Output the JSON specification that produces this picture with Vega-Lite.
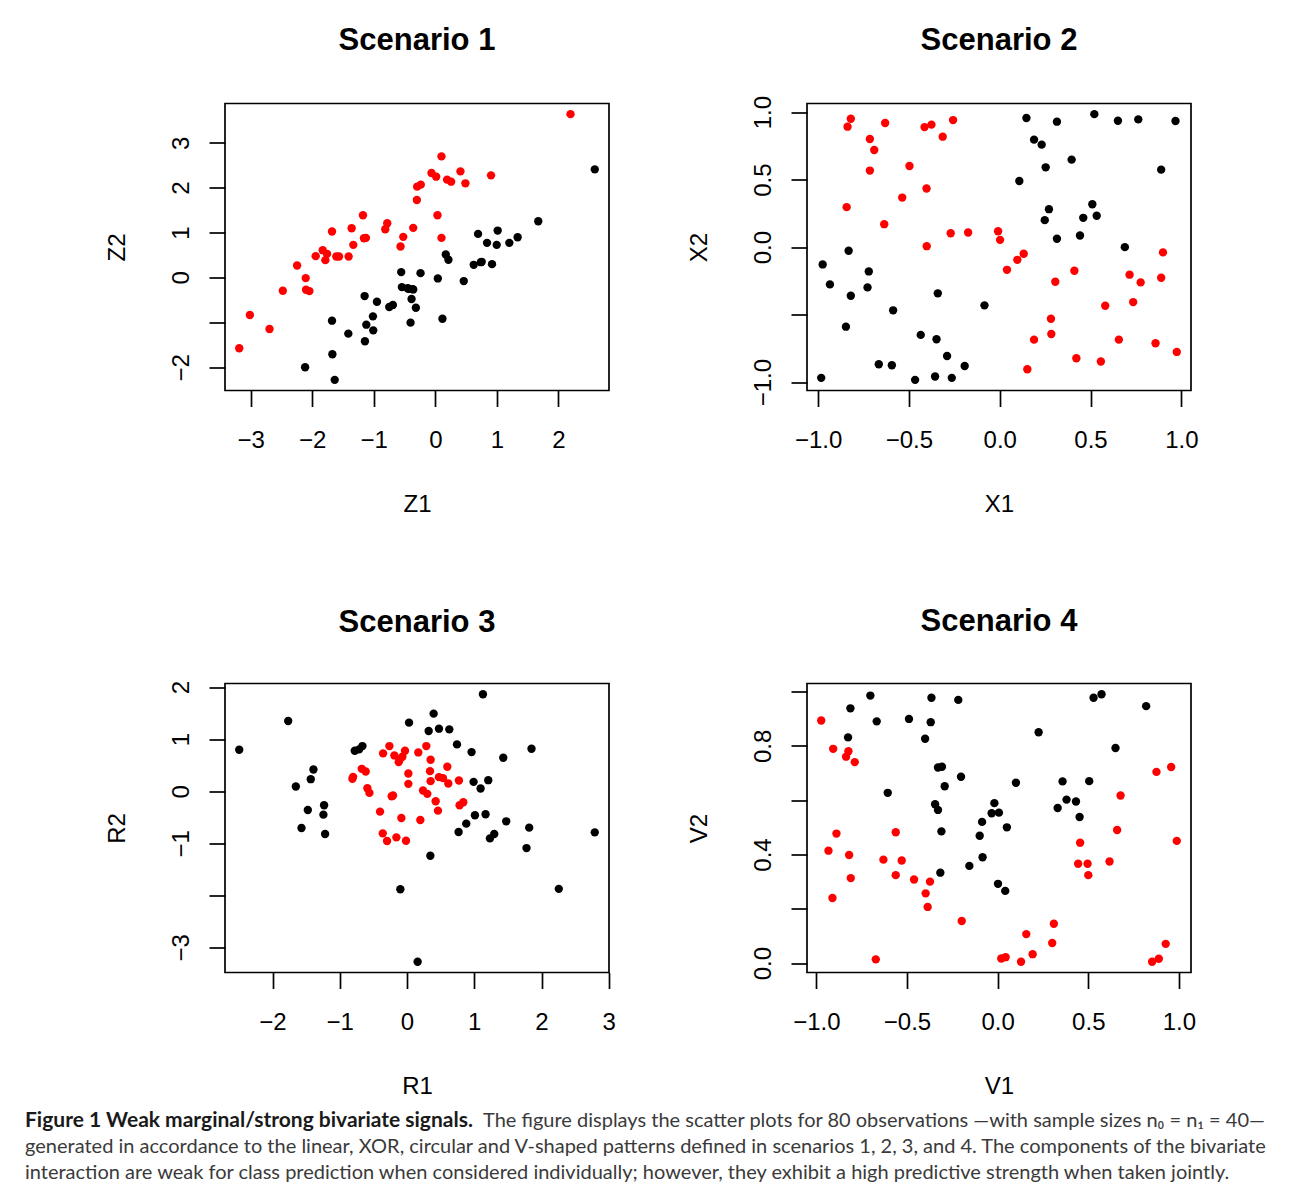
{
  "$schema": "https://vega.github.io/schema/vega-lite/v6.json",
  "background": "white",
  "padding": {"left": 25, "top": 23.5, "right": 0, "bottom": 0},
  "config": {
    "view": {"stroke": "black", "strokeWidth": 1.7},
    "axis": {"domain": false, "grid": false, "tickSize": 16, "tickColor": "black", "tickWidth": 1.7,
      "labelFont": "Liberation Sans", "labelFontSize": 24, "labelColor": "black", "labelOverlap": false, "labelFlush": false, "labelBound": false,
      "titleFont": "Liberation Sans", "titleFontSize": 24, "titleFontWeight": "normal", "titleColor": "black"},
    "axisX": {"labelBaseline": "alphabetic", "labelAlign": "center", "labelPadding": 41, "labelAngle": 0, "titleBaseline": "alphabetic", "titleY": 121},
    "axisY": {"labelAngle": -90, "labelAlign": "center", "labelBaseline": "alphabetic", "labelPadding": 21, "titleAngle": -90, "titleBaseline": "alphabetic", "titleX": -101},
    "title": {"font": "Liberation Sans", "fontSize": 31, "fontWeight": "bold", "color": "black", "frame": "group", "anchor": "middle", "baseline": "alphabetic"},
    "circle": {"size": 70, "opacity": 1}
  },
  "datasets": {
    "s1": [
      {"x":2.590,"y":2.407,"g":"0"},{"x":1.672,"y":1.252,"g":"0"},{"x":1.013,"y":1.044,"g":"0"},{"x":1.337,"y":0.896,"g":"0"},{"x":1.202,"y":0.770,"g":"0"},
      {"x":0.997,"y":0.726,"g":"0"},{"x":0.840,"y":0.770,"g":"0"},{"x":0.694,"y":0.970,"g":"0"},{"x":0.921,"y":0.296,"g":"0"},{"x":0.753,"y":0.348,"g":"0"},
      {"x":0.624,"y":0.281,"g":"0"},{"x":0.170,"y":0.511,"g":"0"},{"x":0.213,"y":0.393,"g":"0"},{"x":0.462,"y":-0.081,"g":"0"},{"x":0.041,"y":-0.022,"g":"0"},
      {"x":-0.240,"y":0.096,"g":"0"},{"x":-0.554,"y":0.119,"g":"0"},{"x":-0.543,"y":-0.215,"g":"0"},{"x":-0.435,"y":-0.252,"g":"0"},{"x":-0.359,"y":-0.267,"g":"0"},
      {"x":-0.386,"y":-0.481,"g":"0"},{"x":-0.316,"y":-0.674,"g":"0"},{"x":-0.402,"y":-1.007,"g":"0"},{"x":0.116,"y":-0.919,"g":"0"},{"x":-0.689,"y":-0.615,"g":"0"},
      {"x":-0.748,"y":-0.659,"g":"0"},{"x":-0.948,"y":-0.541,"g":"0"},{"x":-1.148,"y":-0.415,"g":"0"},{"x":-1.013,"y":-0.867,"g":"0"},{"x":-1.121,"y":-1.052,"g":"0"},
      {"x":-1.008,"y":-1.178,"g":"0"},{"x":-1.143,"y":-1.422,"g":"0"},{"x":-1.413,"y":-1.252,"g":"0"},{"x":-1.678,"y":-0.963,"g":"0"},{"x":-1.672,"y":-1.711,"g":"0"},
      {"x":-2.115,"y":-2.000,"g":"0"},{"x":-1.634,"y":-2.281,"g":"0"},{"x":-0.45,"y":-0.24,"g":"0"},{"x":0.74,"y":0.34,"g":"0"},{"x":-0.37,"y":-0.26,"g":"0"},
      {"x":2.196,"y":3.637,"g":"1"},{"x":0.100,"y":2.696,"g":"1"},{"x":-0.062,"y":2.326,"g":"1"},{"x":0.014,"y":2.244,"g":"1"},{"x":0.191,"y":2.178,"g":"1"},
      {"x":0.257,"y":2.133,"g":"1"},{"x":0.408,"y":2.363,"g":"1"},{"x":0.489,"y":2.096,"g":"1"},{"x":0.905,"y":2.274,"g":"1"},{"x":-0.295,"y":2.022,"g":"1"},
      {"x":-0.236,"y":2.067,"g":"1"},{"x":-0.300,"y":1.726,"g":"1"},{"x":0.035,"y":1.385,"g":"1"},{"x":0.100,"y":0.881,"g":"1"},{"x":-0.359,"y":1.104,"g":"1"},
      {"x":-0.521,"y":0.904,"g":"1"},{"x":-0.565,"y":0.689,"g":"1"},{"x":-0.781,"y":1.207,"g":"1"},{"x":-0.813,"y":1.074,"g":"1"},{"x":-1.175,"y":1.385,"g":"1"},
      {"x":-1.127,"y":0.881,"g":"1"},{"x":-1.159,"y":0.874,"g":"1"},{"x":-1.332,"y":0.726,"g":"1"},{"x":-1.359,"y":1.096,"g":"1"},{"x":-1.678,"y":1.022,"g":"1"},
      {"x":-1.408,"y":0.467,"g":"1"},{"x":-1.564,"y":0.467,"g":"1"},{"x":-1.608,"y":0.467,"g":"1"},{"x":-1.759,"y":0.526,"g":"1"},{"x":-1.829,"y":0.607,"g":"1"},
      {"x":-1.786,"y":0.385,"g":"1"},{"x":-1.943,"y":0.474,"g":"1"},{"x":-2.245,"y":0.267,"g":"1"},{"x":-2.105,"y":-0.015,"g":"1"},{"x":-2.099,"y":-0.274,"g":"1"},
      {"x":-2.045,"y":-0.304,"g":"1"},{"x":-2.477,"y":-0.296,"g":"1"},{"x":-3.012,"y":-0.837,"g":"1"},{"x":-2.693,"y":-1.148,"g":"1"},{"x":-3.185,"y":-1.578,"g":"1"}
    ],
    "s2": [
      {"x":0.147,"y":0.956,"g":"0"},{"x":0.315,"y":0.929,"g":"0"},{"x":0.521,"y":0.985,"g":"0"},{"x":0.651,"y":0.936,"g":"0"},{"x":0.763,"y":0.946,"g":"0"},
      {"x":0.968,"y":0.934,"g":"0"},{"x":0.189,"y":0.796,"g":"0"},{"x":0.231,"y":0.759,"g":"0"},{"x":0.253,"y":0.591,"g":"0"},{"x":0.396,"y":0.648,"g":"0"},
      {"x":0.889,"y":0.574,"g":"0"},{"x":0.108,"y":0.490,"g":"0"},{"x":0.271,"y":0.281,"g":"0"},{"x":0.510,"y":0.318,"g":"0"},{"x":0.248,"y":0.200,"g":"0"},
      {"x":0.460,"y":0.217,"g":"0"},{"x":0.534,"y":0.232,"g":"0"},{"x":0.315,"y":0.062,"g":"0"},{"x":0.442,"y":0.086,"g":"0"},{"x":0.689,"y":0.000,"g":"0"},
      {"x":-0.832,"y":-0.027,"g":"0"},{"x":-0.975,"y":-0.128,"g":"0"},{"x":-0.935,"y":-0.276,"g":"0"},{"x":-0.721,"y":-0.180,"g":"0"},{"x":-0.728,"y":-0.298,"g":"0"},
      {"x":-0.820,"y":-0.360,"g":"0"},{"x":-0.341,"y":-0.342,"g":"0"},{"x":-0.587,"y":-0.468,"g":"0"},{"x":-0.084,"y":-0.431,"g":"0"},{"x":-0.847,"y":-0.589,"g":"0"},
      {"x":-0.435,"y":-0.650,"g":"0"},{"x":-0.348,"y":-0.682,"g":"0"},{"x":-0.290,"y":-0.806,"g":"0"},{"x":-0.666,"y":-0.867,"g":"0"},{"x":-0.594,"y":-0.875,"g":"0"},
      {"x":-0.193,"y":-0.880,"g":"0"},{"x":-0.983,"y":-0.968,"g":"0"},{"x":-0.466,"y":-0.983,"g":"0"},{"x":-0.356,"y":-0.958,"g":"0"},{"x":-0.264,"y":-0.968,"g":"0"},
      {"x":-0.820,"y":0.951,"g":"1"},{"x":-0.838,"y":0.892,"g":"1"},{"x":-0.631,"y":0.919,"g":"1"},{"x":-0.414,"y":0.889,"g":"1"},{"x":-0.376,"y":0.907,"g":"1"},
      {"x":-0.257,"y":0.941,"g":"1"},{"x":-0.314,"y":0.818,"g":"1"},{"x":-0.715,"y":0.801,"g":"1"},{"x":-0.691,"y":0.719,"g":"1"},{"x":-0.715,"y":0.567,"g":"1"},
      {"x":-0.497,"y":0.601,"g":"1"},{"x":-0.403,"y":0.434,"g":"1"},{"x":-0.537,"y":0.367,"g":"1"},{"x":-0.843,"y":0.296,"g":"1"},{"x":-0.636,"y":0.170,"g":"1"},
      {"x":-0.402,"y":0.007,"g":"1"},{"x":-0.270,"y":0.103,"g":"1"},{"x":-0.174,"y":0.108,"g":"1"},{"x":-0.009,"y":0.118,"g":"1"},{"x":0.002,"y":0.054,"g":"1"},
      {"x":0.132,"y":-0.049,"g":"1"},{"x":0.097,"y":-0.094,"g":"1"},{"x":0.040,"y":-0.168,"g":"1"},{"x":0.306,"y":-0.256,"g":"1"},{"x":0.411,"y":-0.175,"g":"1"},
      {"x":0.899,"y":-0.039,"g":"1"},{"x":0.889,"y":-0.227,"g":"1"},{"x":0.715,"y":-0.204,"g":"1"},{"x":0.776,"y":-0.261,"g":"1"},{"x":0.581,"y":-0.434,"g":"1"},
      {"x":0.735,"y":-0.407,"g":"1"},{"x":0.282,"y":-0.530,"g":"1"},{"x":0.284,"y":-0.643,"g":"1"},{"x":0.189,"y":-0.685,"g":"1"},{"x":0.656,"y":-0.685,"g":"1"},
      {"x":0.858,"y":-0.712,"g":"1"},{"x":0.975,"y":-0.776,"g":"1"},{"x":0.422,"y":-0.823,"g":"1"},{"x":0.557,"y":-0.847,"g":"1"},{"x":0.152,"y":-0.904,"g":"1"}
    ],
    "s3": [
      {"x":-2.495,"y":0.796,"g":"0"},{"x":-1.767,"y":1.349,"g":"0"},{"x":1.129,"y":1.863,"g":"0"},{"x":0.396,"y":1.490,"g":"0"},{"x":0.030,"y":1.317,"g":"0"},
      {"x":0.322,"y":1.156,"g":"0"},{"x":0.475,"y":1.201,"g":"0"},{"x":0.629,"y":1.188,"g":"0"},{"x":0.743,"y":0.899,"g":"0"},{"x":0.960,"y":0.751,"g":"0"},
      {"x":1.851,"y":0.816,"g":"0"},{"x":1.431,"y":0.642,"g":"0"},{"x":-0.663,"y":0.867,"g":"0"},{"x":-0.777,"y":0.777,"g":"0"},{"x":-0.713,"y":0.803,"g":"0"},
      {"x":-1.391,"y":0.417,"g":"0"},{"x":-1.431,"y":0.231,"g":"0"},{"x":-1.653,"y":0.090,"g":"0"},{"x":-1.233,"y":-0.270,"g":"0"},{"x":-1.243,"y":-0.450,"g":"0"},
      {"x":-1.475,"y":-0.360,"g":"0"},{"x":-1.569,"y":-0.706,"g":"0"},{"x":-1.218,"y":-0.822,"g":"0"},{"x":0.990,"y":0.180,"g":"0"},{"x":1.208,"y":0.212,"g":"0"},
      {"x":1.094,"y":0.051,"g":"0"},{"x":1.010,"y":-0.462,"g":"0"},{"x":1.168,"y":-0.443,"g":"0"},{"x":0.881,"y":-0.623,"g":"0"},{"x":0.767,"y":-0.784,"g":"0"},
      {"x":1.475,"y":-0.578,"g":"0"},{"x":1.297,"y":-0.822,"g":"0"},{"x":1.233,"y":-0.906,"g":"0"},{"x":1.817,"y":-0.700,"g":"0"},{"x":1.777,"y":-1.092,"g":"0"},
      {"x":2.792,"y":-0.790,"g":"0"},{"x":0.347,"y":-1.240,"g":"0"},{"x":-0.099,"y":-1.882,"g":"0"},{"x":2.257,"y":-1.875,"g":"0"},{"x":0.158,"y":-3.276,"g":"0"},
      {"x":-0.356,"y":0.726,"g":"1"},{"x":-0.262,"y":0.867,"g":"1"},{"x":-0.188,"y":0.687,"g":"1"},{"x":-0.109,"y":0.610,"g":"1"},{"x":-0.069,"y":0.662,"g":"1"},
      {"x":-0.030,"y":0.777,"g":"1"},{"x":-0.124,"y":0.559,"g":"1"},{"x":0.168,"y":0.745,"g":"1"},{"x":0.287,"y":0.867,"g":"1"},{"x":0.351,"y":0.604,"g":"1"},
      {"x":0.599,"y":0.469,"g":"1"},{"x":0.020,"y":0.340,"g":"1"},{"x":0.020,"y":0.141,"g":"1"},{"x":0.342,"y":0.385,"g":"1"},{"x":0.351,"y":0.193,"g":"1"},
      {"x":0.475,"y":0.270,"g":"1"},{"x":0.535,"y":0.251,"g":"1"},{"x":0.614,"y":0.148,"g":"1"},{"x":0.772,"y":0.206,"g":"1"},{"x":-0.673,"y":0.430,"g":"1"},
      {"x":-0.614,"y":0.379,"g":"1"},{"x":-0.812,"y":0.238,"g":"1"},{"x":-0.802,"y":0.276,"g":"1"},{"x":-0.589,"y":0.058,"g":"1"},{"x":-0.559,"y":-0.032,"g":"1"},
      {"x":-0.208,"y":-0.083,"g":"1"},{"x":-0.228,"y":-0.096,"g":"1"},{"x":0.238,"y":0.013,"g":"1"},{"x":0.302,"y":-0.051,"g":"1"},{"x":0.426,"y":-0.193,"g":"1"},
      {"x":0.460,"y":-0.373,"g":"1"},{"x":0.782,"y":-0.270,"g":"1"},{"x":0.837,"y":-0.212,"g":"1"},{"x":-0.401,"y":-0.392,"g":"1"},{"x":-0.084,"y":-0.514,"g":"1"},
      {"x":0.198,"y":-0.552,"g":"1"},{"x":-0.361,"y":-0.809,"g":"1"},{"x":-0.297,"y":-0.957,"g":"1"},{"x":-0.158,"y":-0.886,"g":"1"},{"x":-0.015,"y":-0.951,"g":"1"}
    ],
    "s4": [
      {"x":-0.702,"y":0.985,"g":"0"},{"x":-0.812,"y":0.938,"g":"0"},{"x":-0.667,"y":0.890,"g":"0"},{"x":-0.825,"y":0.831,"g":"0"},{"x":-0.365,"y":0.977,"g":"0"},
      {"x":-0.217,"y":0.969,"g":"0"},{"x":-0.489,"y":0.899,"g":"0"},{"x":-0.369,"y":0.887,"g":"0"},{"x":-0.400,"y":0.826,"g":"0"},{"x":0.529,"y":0.977,"g":"0"},
      {"x":0.573,"y":0.990,"g":"0"},{"x":0.819,"y":0.946,"g":"0"},{"x":0.226,"y":0.850,"g":"0"},{"x":0.650,"y":0.792,"g":"0"},{"x":-0.329,"y":0.720,"g":"0"},
      {"x":-0.307,"y":0.723,"g":"0"},{"x":-0.202,"y":0.686,"g":"0"},{"x":-0.292,"y":0.651,"g":"0"},{"x":-0.606,"y":0.627,"g":"0"},{"x":0.101,"y":0.664,"g":"0"},
      {"x":0.358,"y":0.669,"g":"0"},{"x":0.505,"y":0.670,"g":"0"},{"x":0.380,"y":0.602,"g":"0"},{"x":0.432,"y":0.595,"g":"0"},{"x":0.331,"y":0.571,"g":"0"},
      {"x":0.452,"y":0.538,"g":"0"},{"x":-0.345,"y":0.585,"g":"0"},{"x":-0.329,"y":0.564,"g":"0"},{"x":-0.018,"y":0.589,"g":"0"},{"x":-0.033,"y":0.552,"g":"0"},
      {"x":0.007,"y":0.554,"g":"0"},{"x":-0.086,"y":0.520,"g":"0"},{"x":0.051,"y":0.500,"g":"0"},{"x":-0.310,"y":0.485,"g":"0"},{"x":-0.099,"y":0.469,"g":"0"},
      {"x":-0.083,"y":0.390,"g":"0"},{"x":-0.156,"y":0.358,"g":"0"},{"x":-0.316,"y":0.333,"g":"0"},{"x":0.002,"y":0.292,"g":"0"},{"x":0.042,"y":0.266,"g":"0"},
      {"x":-0.973,"y":0.893,"g":"1"},{"x":-0.907,"y":0.789,"g":"1"},{"x":-0.823,"y":0.780,"g":"1"},{"x":-0.836,"y":0.760,"g":"1"},{"x":-0.788,"y":0.740,"g":"1"},
      {"x":-0.889,"y":0.477,"g":"1"},{"x":-0.933,"y":0.414,"g":"1"},{"x":-0.819,"y":0.398,"g":"1"},{"x":-0.810,"y":0.313,"g":"1"},{"x":-0.911,"y":0.240,"g":"1"},
      {"x":-0.562,"y":0.482,"g":"1"},{"x":-0.630,"y":0.381,"g":"1"},{"x":-0.529,"y":0.378,"g":"1"},{"x":-0.562,"y":0.324,"g":"1"},{"x":-0.461,"y":0.308,"g":"1"},
      {"x":-0.373,"y":0.300,"g":"1"},{"x":-0.397,"y":0.257,"g":"1"},{"x":-0.386,"y":0.207,"g":"1"},{"x":-0.198,"y":0.155,"g":"1"},{"x":-0.672,"y":0.014,"g":"1"},
      {"x":0.310,"y":0.145,"g":"1"},{"x":0.158,"y":0.107,"g":"1"},{"x":0.301,"y":0.074,"g":"1"},{"x":0.193,"y":0.033,"g":"1"},{"x":0.020,"y":0.017,"g":"1"},
      {"x":0.044,"y":0.022,"g":"1"},{"x":0.129,"y":0.005,"g":"1"},{"x":0.678,"y":0.617,"g":"1"},{"x":0.659,"y":0.490,"g":"1"},{"x":0.455,"y":0.443,"g":"1"},
      {"x":0.444,"y":0.366,"g":"1"},{"x":0.496,"y":0.366,"g":"1"},{"x":0.500,"y":0.324,"g":"1"},{"x":0.617,"y":0.374,"g":"1"},{"x":0.876,"y":0.704,"g":"1"},
      {"x":0.957,"y":0.722,"g":"1"},{"x":0.988,"y":0.450,"g":"1"},{"x":0.927,"y":0.071,"g":"1"},{"x":0.889,"y":0.016,"g":"1"},{"x":0.852,"y":0.005,"g":"1"}
    ],
    "caption": [
      {"line": 1, "part": "b", "text": "Figure 1 Weak marginal/strong bivariate signals."},
      {"line": 1, "part": "r", "text": "The figure displays the scatter plots for 80 observations —with sample sizes n₀ = n₁ = 40—"},
      {"line": 2, "part": "r", "text": "generated in accordance to the linear, XOR, circular and V-shaped patterns defined in scenarios 1, 2, 3, and 4. The components of the bivariate"},
      {"line": 3, "part": "r", "text": "interaction are weak for class prediction when considered individually; however, they exhibit a high predictive strength when taken jointly."}
    ]
  },
  "vconcat": [
    {
      "vconcat": [
        {
          "hconcat": [
            {
              "width": 384, "height": 287,
              "title": {"text": "Scenario 1", "offset": 47},
              "data": {"name": "s1"},
              "mark": "circle",
              "encoding": {
                "x": {"field": "x", "type": "quantitative", "scale": {"domain": [-3.416, 2.821], "nice": false, "zero": false}, "axis": {"title": "Z1", "values": [-3, -2, -1, 0, 1, 2]}},
                "y": {"field": "y", "type": "quantitative", "scale": {"domain": [-2.518, 3.874], "nice": false, "zero": false}, "axis": {"title": "Z2", "values": [-2, -1, 0, 1, 2, 3], "labelExpr": "datum.value == -1 ? '' : datum.label"}},
                "color": {"field": "g", "type": "nominal", "scale": {"domain": ["0", "1"], "range": ["#000000", "#FF0000"]}, "legend": null}
              }
            },
            {
              "width": 384, "height": 287,
              "title": {"text": "Scenario 2", "offset": 38},
              "data": {"name": "s2"},
              "mark": "circle",
              "encoding": {
                "x": {"field": "x", "type": "quantitative", "scale": {"domain": [-1.0613, 1.0533], "nice": false, "zero": false}, "axis": {"title": "X1", "values": [-1, -0.5, 0, 0.5, 1], "format": ".1f"}},
                "y": {"field": "y", "type": "quantitative", "scale": {"domain": [-1.0617, 1.0637], "nice": false, "zero": false}, "axis": {"title": "X2", "values": [-1, -0.5, 0, 0.5, 1], "format": ".1f", "labelExpr": "datum.value == -0.5 ? '' : datum.label"}},
                "color": {"field": "g", "type": "nominal", "scale": {"domain": ["0", "1"], "range": ["#000000", "#FF0000"]}, "legend": null}
              }
            }
          ],
          "spacing": 198,
          "bounds": "flush"
        },
        {
          "hconcat": [
            {
              "width": 384, "height": 289,
              "title": {"text": "Scenario 3", "offset": 41.5},
              "data": {"name": "s3"},
              "mark": "circle",
              "encoding": {
                "x": {"field": "x", "type": "quantitative", "scale": {"domain": [-2.7065, 3.0035], "nice": false, "zero": false}, "axis": {"title": "R1", "values": [-2, -1, 0, 1, 2, 3]}},
                "y": {"field": "y", "type": "quantitative", "scale": {"domain": [-3.4816, 2.0686], "nice": false, "zero": false}, "axis": {"title": "R2", "values": [-3, -2, -1, 0, 1, 2], "labelExpr": "datum.value == -2 ? '' : datum.label"}},
                "color": {"field": "g", "type": "nominal", "scale": {"domain": ["0", "1"], "range": ["#000000", "#FF0000"]}, "legend": null}
              }
            },
            {
              "width": 384, "height": 289,
              "title": {"text": "Scenario 4", "offset": 45.5},
              "data": {"name": "s4"},
              "mark": "circle",
              "encoding": {
                "x": {"field": "x", "type": "quantitative", "scale": {"domain": [-1.0514, 1.0664], "nice": false, "zero": false}, "axis": {"title": "V1", "values": [-1, -0.5, 0, 0.5, 1], "format": ".1f"}},
                "y": {"field": "y", "type": "quantitative", "scale": {"domain": [-0.0344, 1.0294], "nice": false, "zero": false}, "axis": {"title": "V2", "values": [0, 0.2, 0.4, 0.6, 0.8, 1], "format": ".1f", "labelExpr": "(abs(datum.value) < 0.001 || abs(datum.value - 0.4) < 0.001 || abs(datum.value - 0.8) < 0.001) ? datum.label : ''"}},
                "color": {"field": "g", "type": "nominal", "scale": {"domain": ["0", "1"], "range": ["#000000", "#FF0000"]}, "legend": null}
              }
            }
          ],
          "spacing": 198,
          "bounds": "flush"
        }
      ],
      "spacing": 580,
      "bounds": "flush"
    },
    {
      "width": 966, "height": 78,
      "view": {"stroke": null},
      "data": {"name": "caption"},
      "encoding": {
        "y": {"field": "line", "type": "ordinal", "scale": {"type": "point", "domain": [1, 2, 3], "padding": 0.5}, "axis": null},
        "x": {"value": 0},
        "text": {"field": "text"}
      },
      "layer": [
        {"transform": [{"filter": "datum.part == 'b'"}], "mark": {"type": "text", "align": "left", "baseline": "alphabetic", "font": "Lato", "fontSize": 21, "fontWeight": "bold", "color": "#1a1a1a", "dx": -200}},
        {"transform": [{"filter": "datum.part == 'r' && datum.line == 1"}], "mark": {"type": "text", "align": "left", "baseline": "alphabetic", "font": "Lato", "fontSize": 20, "color": "#3a3a3a", "dx": 258}},
        {"transform": [{"filter": "datum.part == 'r' && datum.line > 1"}], "mark": {"type": "text", "align": "left", "baseline": "alphabetic", "font": "Lato", "fontSize": 20, "color": "#3a3a3a", "dx": -200}}
      ]
    }
  ],
  "spacing": 1010,
  "bounds": "flush"
}
